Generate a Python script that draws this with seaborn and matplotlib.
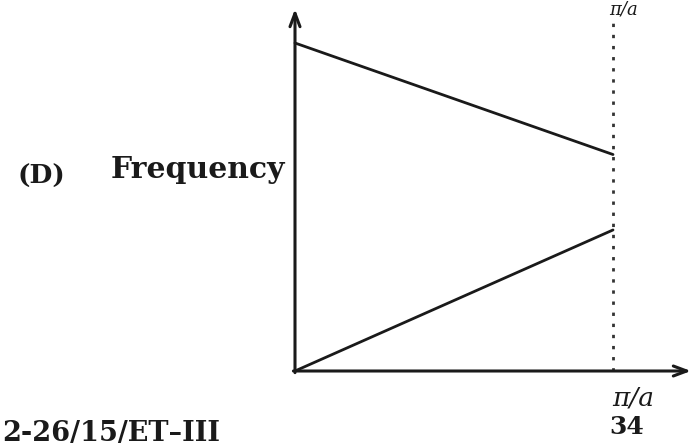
import matplotlib
matplotlib.use("Agg")
import matplotlib.pyplot as plt
import seaborn as sns
import pandas as pd

# Data: frequency vs wave vector k (in units of pi/a), two branches
k_values = [0.0, 1.0]
upper_branch = [1.0, 0.66]
lower_branch = [0.0, 0.43]
branch_names = ["upper", "lower"]

df = pd.DataFrame({
    "k": k_values + k_values,
    "frequency": upper_branch + lower_branch,
    "branch": [branch_names[0]] * 2 + [branch_names[1]] * 2,
})

sns.set_theme(style="white")
plt.rcParams["font.family"] = ["DejaVu Serif"]

W, H = 693, 448
fig = plt.figure(figsize=(W / 100, H / 100), dpi=100)
ax = fig.add_axes([0, 0, 1, 1])

# pixel geometry of the axes (origin and scale)
x0_px, x1_px = 295, 613
y0_px, y1_px = 371, 43
sx = x1_px - x0_px
sy = y0_px - y1_px
ax.set_xlim(-x0_px / sx, (W - x0_px) / sx)
ax.set_ylim(-(H - y0_px) / sy, y0_px / sy)
ax.set_axis_off()

sns.lineplot(data=df, x="k", y="frequency", hue="branch",
             palette={"upper": "#1a1a1a", "lower": "#1a1a1a"},
             linewidth=2.0, legend=False, ax=ax)

# axes with arrows
arrow_kw = dict(arrowstyle="->,head_length=0.8,head_width=0.3",
                color="#1a1a1a", lw=2.2, shrinkA=0, shrinkB=0)
ax.annotate("", xy=(0, (y0_px - 9) / sy), xytext=(0, -0.005), arrowprops=arrow_kw)
ax.annotate("", xy=((691 - x0_px) / sx, 0), xytext=(-0.005, 0), arrowprops=arrow_kw)

# dotted boundary line at pi/a
ax.plot([1, 1], [0, (y0_px - 20) / sy], linestyle=(0, (1.2, 2.8)),
        color="#333333", lw=2.0)

# texts
fig.text(285 / W, 1 - 170 / H, "Frequency", ha="right", va="center",
         fontsize=21.5, fontweight="bold", color="#1a1a1a")
fig.text(41 / W, 1 - 176 / H, "(D)", ha="center", va="center",
         fontsize=19, fontweight="bold", color="#1a1a1a")
fig.text(633 / W, 1 - 398 / H, "π/a", ha="center", va="center",
         fontsize=19, fontstyle="italic", color="#1a1a1a")
fig.text(627 / W, 1 - 427 / H, "34", ha="center", va="center",
         fontsize=18, fontweight="bold", color="#1a1a1a")
fig.text(624 / W, 1 - 1 / H, "π/a", ha="center", va="top",
         fontsize=13, fontstyle="italic", color="#1a1a1a")
fig.text(2 / W, 1 - 433 / H, "2-26/15/ET–III", ha="left", va="center",
         fontsize=19.5, fontweight="bold", color="#1a1a1a")

fig.savefig("out.png", dpi=100, facecolor="white")
